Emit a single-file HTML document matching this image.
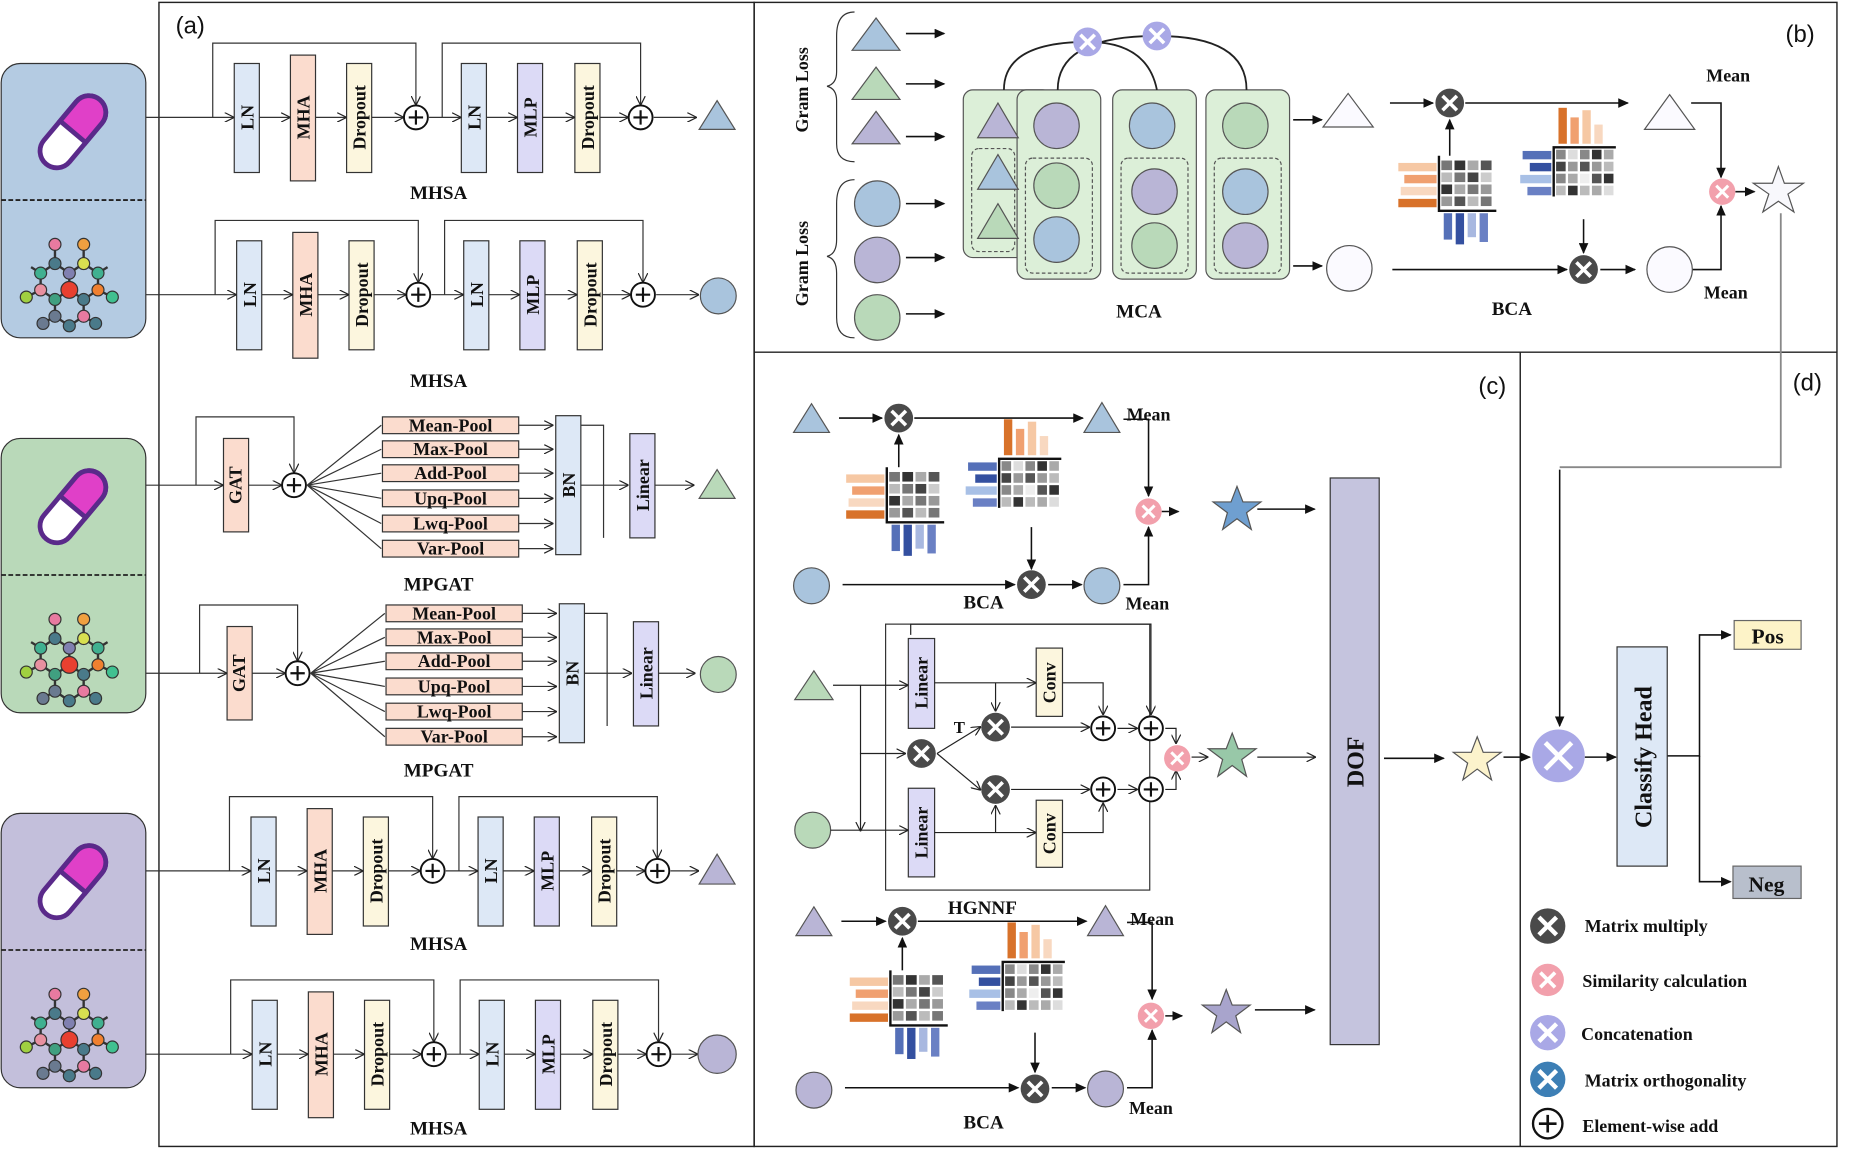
<!DOCTYPE html>
<html><head><meta charset="utf-8"><style>
html,body{margin:0;padding:0;background:#fff;}
svg{display:block;}
text{font-family:"Liberation Serif",serif;font-weight:bold;fill:#111;}
.s{font-family:"Liberation Sans",sans-serif;font-weight:normal;}
</style></head><body>
<svg width="1874" height="1168" viewBox="0 0 1568 975" preserveAspectRatio="none" xmlns="http://www.w3.org/2000/svg">
<defs>
<marker id="ar" markerWidth="8" markerHeight="8" refX="7" refY="4" orient="auto" markerUnits="userSpaceOnUse"><path d="M0,0 L8,4 L0,8" fill="none" stroke="#222" stroke-width="1"/></marker>
<marker id="af" markerWidth="9" markerHeight="8" refX="8" refY="4" orient="auto" markerUnits="userSpaceOnUse"><path d="M0,0 L9,4 L0,8z" fill="#111"/></marker>
<symbol id="mx" viewBox="-13 -13 26 26" overflow="visible"><circle r="12" fill="#4a4a4a"/><path d="M-6,-6L6,6M6,-6L-6,6" stroke="#fff" stroke-width="3"/></symbol>
<symbol id="pk" viewBox="-13 -13 26 26" overflow="visible"><circle r="11" fill="#f2a0ac"/><path d="M-5,-5L5,5M5,-5L-5,5" stroke="#fff" stroke-width="2.5"/></symbol>
<symbol id="pu" viewBox="-13 -13 26 26" overflow="visible"><circle r="12" fill="#a9a8e6"/><path d="M-6,-6L6,6M6,-6L-6,6" stroke="#fff" stroke-width="3"/></symbol>
<symbol id="bl" viewBox="-13 -13 26 26" overflow="visible"><circle r="12" fill="#3d7fb5"/><path d="M-6,-6L6,6M6,-6L-6,6" stroke="#fff" stroke-width="3"/></symbol>
<symbol id="pl" viewBox="-13 -13 26 26" overflow="visible"><circle r="10" fill="#fff" stroke="#111" stroke-width="1.6"/><path d="M-6,0H6M0,-6V6" stroke="#111" stroke-width="1.8"/></symbol>
<symbol id="hmA" viewBox="0 0 90 85" overflow="visible">
<rect x="0" y="6" width="32" height="7" fill="#f6c8a4"/><rect x="5" y="16" width="27" height="7" fill="#f0a070"/><rect x="2" y="26" width="30" height="7" fill="#f8d8c0"/><rect x="0" y="36" width="32" height="7" fill="#d8722a"/>
<g fill="#777"><rect x="36" y="4" width="9" height="8"/><rect x="47" y="4" width="9" height="8" fill="#333"/><rect x="58" y="4" width="9" height="8" fill="#aaa"/><rect x="69" y="4" width="9" height="8" fill="#555"/>
<rect x="36" y="14" width="9" height="8" fill="#bbb"/><rect x="47" y="14" width="9" height="8"/><rect x="58" y="14" width="9" height="8" fill="#444"/><rect x="69" y="14" width="9" height="8" fill="#ccc"/>
<rect x="36" y="24" width="9" height="8" fill="#333"/><rect x="47" y="24" width="9" height="8" fill="#aaa"/><rect x="58" y="24" width="9" height="8"/><rect x="69" y="24" width="9" height="8" fill="#999"/>
<rect x="36" y="34" width="9" height="8" fill="#999"/><rect x="47" y="34" width="9" height="8" fill="#555"/><rect x="58" y="34" width="9" height="8" fill="#bbb"/><rect x="69" y="34" width="9" height="8" fill="#777"/></g>
<path d="M34,0V46H82" fill="none" stroke="#111" stroke-width="2"/>
<rect x="38" y="48" width="7" height="22" fill="#5570b8"/><rect x="48" y="48" width="7" height="26" fill="#3450a0"/><rect x="58" y="48" width="7" height="20" fill="#a8b8e0"/><rect x="68" y="48" width="7" height="24" fill="#6a80c4"/>
</symbol>
<symbol id="hmB" viewBox="0 0 90 85" overflow="visible">
<rect x="32" y="0" width="7" height="30" fill="#d8722a"/><rect x="42" y="8" width="7" height="22" fill="#f0a070"/><rect x="52" y="2" width="7" height="28" fill="#f6c8a4"/><rect x="62" y="14" width="7" height="16" fill="#f8d8c0"/>
<rect x="2" y="36" width="24" height="7" fill="#5570b8"/><rect x="8" y="46" width="18" height="7" fill="#3450a0"/><rect x="0" y="56" width="26" height="7" fill="#a8c0e6"/><rect x="6" y="66" width="20" height="7" fill="#6a80c4"/>
<g><rect x="30" y="35" width="8" height="8" fill="#888"/><rect x="40" y="35" width="8" height="8" fill="#ddd"/><rect x="50" y="35" width="8" height="8" fill="#888"/><rect x="60" y="35" width="8" height="8" fill="#333"/><rect x="70" y="35" width="8" height="8" fill="#aaa"/>
<rect x="30" y="45" width="8" height="8" fill="#444"/><rect x="40" y="45" width="8" height="8" fill="#999"/><rect x="50" y="45" width="8" height="8" fill="#555"/><rect x="60" y="45" width="8" height="8" fill="#999"/><rect x="70" y="45" width="8" height="8" fill="#bbb"/>
<rect x="30" y="55" width="8" height="8" fill="#888"/><rect x="40" y="55" width="8" height="8" fill="#aaa"/><rect x="50" y="55" width="8" height="8" fill="#eee"/><rect x="60" y="55" width="8" height="8" fill="#555"/><rect x="70" y="55" width="8" height="8" fill="#333"/>
<rect x="30" y="65" width="8" height="8" fill="#bbb"/><rect x="40" y="65" width="8" height="8" fill="#333"/><rect x="50" y="65" width="8" height="8" fill="#bbb"/><rect x="60" y="65" width="8" height="8" fill="#aaa"/><rect x="70" y="65" width="8" height="8" fill="#ddd"/></g>
<path d="M28,74V33H80" fill="none" stroke="#111" stroke-width="2"/>
</symbol>
<symbol id="pill" viewBox="0 0 122 114" overflow="visible">
<g transform="rotate(-50 61 57)"><rect x="26" y="43" width="70" height="28" rx="14" fill="#fff" stroke="#5a2a8a" stroke-width="4"/><path d="M61,43H82A14,14 0 0 1 82,71H61z" fill="#e040c8" stroke="#5a2a8a" stroke-width="4"/></g>
</symbol>
<symbol id="mol" viewBox="0 0 122 114" overflow="visible">
<g stroke="#333" stroke-width="2" fill="none"><path d="M46,40L46,52L34,60L34,74L46,82L46,96L58,104L70,96L70,82L82,74L82,60L70,52L70,40M46,52L58,60L70,52M58,60L58,74L46,82M58,74L70,82M34,74L22,80M82,74L94,80M46,96L36,102M70,96L80,102M34,60L26,55M82,60L90,55"/></g>
<g stroke="#333" stroke-width="1"><circle cx="46" cy="36" r="5" fill="#e87aa0"/><circle cx="70" cy="36" r="5" fill="#f0a040"/><circle cx="46" cy="52" r="5" fill="#4a7a8a"/><circle cx="70" cy="52" r="5" fill="#d8e050"/><circle cx="34" cy="60" r="5" fill="#40b090"/><circle cx="82" cy="60" r="5" fill="#40b090"/><circle cx="58" cy="60" r="5" fill="#8080b0"/><circle cx="58" cy="74" r="7" fill="#e84030"/><circle cx="34" cy="74" r="5" fill="#e890a0"/><circle cx="82" cy="74" r="5" fill="#f08030"/><circle cx="22" cy="80" r="5" fill="#a0d040"/><circle cx="94" cy="80" r="5" fill="#40c090"/><circle cx="46" cy="82" r="5" fill="#40a080"/><circle cx="70" cy="82" r="5" fill="#4a7a8a"/><circle cx="46" cy="96" r="5" fill="#6a7a90"/><circle cx="70" cy="96" r="5" fill="#e87aa0"/><circle cx="36" cy="102" r="5" fill="#6a7a90"/><circle cx="58" cy="104" r="5" fill="#4a7a8a"/><circle cx="80" cy="102" r="5" fill="#4a7a8a"/></g>
</symbol>
</defs>

<!-- left icon panels -->
<g stroke="#333" stroke-width="1">
<rect x="1" y="53" width="121" height="229" rx="16" fill="#b4cbe2"/>
<rect x="1" y="366" width="121" height="229" rx="16" fill="#b9d9b9"/>
<rect x="1" y="679" width="121" height="229" rx="16" fill="#c3bfdb"/>
</g>
<g stroke="#222" stroke-width="1.5" stroke-dasharray="4,2"><path d="M1,167H122M1,480H122M1,793H122"/></g>
<use href="#pill" x="0" y="53" width="122" height="114"/><use href="#mol" x="0" y="168" width="122" height="114"/>
<use href="#pill" x="0" y="366" width="122" height="114"/><use href="#mol" x="0" y="481" width="122" height="114"/>
<use href="#pill" x="0" y="679" width="122" height="114"/><use href="#mol" x="0" y="794" width="122" height="114"/>

<!-- panel borders -->
<g fill="none" stroke="#222" stroke-width="1.2">
<rect x="133" y="2" width="498" height="955"/>
<rect x="631" y="2" width="906" height="955"/>
<path d="M631,294H1537M1272,294V957"/>
</g>
<text class="s" x="147" y="28" font-size="20">(a)</text>
<text class="s" x="1494" y="35" font-size="20">(b)</text>
<text class="s" x="1237" y="329" font-size="20">(c)</text>
<text class="s" x="1500" y="326" font-size="20">(d)</text>

<!-- MHSA rows -->
<g>
<g stroke="#333" stroke-width="1">
<rect x="196" y="53" width="21" height="91" fill="#dde8f6"/><rect x="243" y="46" width="21" height="105" fill="#fbdcce"/><rect x="290" y="53" width="21" height="91" fill="#fcf6de"/>
<rect x="386" y="53" width="21" height="91" fill="#dde8f6"/><rect x="433" y="53" width="21" height="91" fill="#dcdaf6"/><rect x="481" y="53" width="21" height="91" fill="#fcf6de"/></g>
<g stroke="#333" stroke-width="1" fill="none" marker-end="url(#ar)">
<path d="M122,98H195"/><path d="M217,98H242"/><path d="M264,98H289"/><path d="M311,98H337"/><path d="M178,98V36H348V87"/><path d="M359,98H385"/><path d="M370,98V36H536V87"/><path d="M407,98H432"/><path d="M454,98H480"/><path d="M502,98H525"/><path d="M547,98H582"/></g>
<use href="#pl" x="335" y="85" width="26" height="26"/><use href="#pl" x="523" y="85" width="26" height="26"/>
<g font-size="15"><text transform="translate(212,98) rotate(-90)" text-anchor="middle">LN</text><text transform="translate(259,98) rotate(-90)" text-anchor="middle">MHA</text><text transform="translate(306,98) rotate(-90)" text-anchor="middle">Dropout</text><text transform="translate(402,98) rotate(-90)" text-anchor="middle">LN</text><text transform="translate(449,98) rotate(-90)" text-anchor="middle">MLP</text><text transform="translate(497,98) rotate(-90)" text-anchor="middle">Dropout</text></g>
<text x="367" y="166" font-size="16" text-anchor="middle">MHSA</text>
</g>
<path d="M600,84L615,108H585z" fill="#a9c4dd" stroke="#555"/>

<g transform="translate(2,148)">
<g stroke="#333" stroke-width="1">
<rect x="196" y="53" width="21" height="91" fill="#dde8f6"/><rect x="243" y="46" width="21" height="105" fill="#fbdcce"/><rect x="290" y="53" width="21" height="91" fill="#fcf6de"/>
<rect x="386" y="53" width="21" height="91" fill="#dde8f6"/><rect x="433" y="53" width="21" height="91" fill="#dcdaf6"/><rect x="481" y="53" width="21" height="91" fill="#fcf6de"/></g>
<g stroke="#333" stroke-width="1" fill="none" marker-end="url(#ar)">
<path d="M120,98H195"/><path d="M217,98H242"/><path d="M264,98H289"/><path d="M311,98H337"/><path d="M178,98V36H348V87"/><path d="M359,98H385"/><path d="M370,98V36H536V87"/><path d="M407,98H432"/><path d="M454,98H480"/><path d="M502,98H525"/><path d="M547,98H582"/></g>
<use href="#pl" x="335" y="85" width="26" height="26"/><use href="#pl" x="523" y="85" width="26" height="26"/>
<g font-size="15"><text transform="translate(212,98) rotate(-90)" text-anchor="middle">LN</text><text transform="translate(259,98) rotate(-90)" text-anchor="middle">MHA</text><text transform="translate(306,98) rotate(-90)" text-anchor="middle">Dropout</text><text transform="translate(402,98) rotate(-90)" text-anchor="middle">LN</text><text transform="translate(449,98) rotate(-90)" text-anchor="middle">MLP</text><text transform="translate(497,98) rotate(-90)" text-anchor="middle">Dropout</text></g>
<text x="365" y="175" font-size="16" text-anchor="middle">MHSA</text>
</g>
<circle cx="601" cy="247" r="15" fill="#a9c4dd" stroke="#555"/>

<g transform="translate(14,629)">
<g stroke="#333" stroke-width="1">
<rect x="196" y="53" width="21" height="91" fill="#dde8f6"/><rect x="243" y="46" width="21" height="105" fill="#fbdcce"/><rect x="290" y="53" width="21" height="91" fill="#fcf6de"/>
<rect x="386" y="53" width="21" height="91" fill="#dde8f6"/><rect x="433" y="53" width="21" height="91" fill="#dcdaf6"/><rect x="481" y="53" width="21" height="91" fill="#fcf6de"/></g>
<g stroke="#333" stroke-width="1" fill="none" marker-end="url(#ar)">
<path d="M108,98H195"/><path d="M217,98H242"/><path d="M264,98H289"/><path d="M311,98H337"/><path d="M178,98V36H348V87"/><path d="M359,98H385"/><path d="M370,98V36H536V87"/><path d="M407,98H432"/><path d="M454,98H480"/><path d="M502,98H525"/><path d="M547,98H570"/></g>
<use href="#pl" x="335" y="85" width="26" height="26"/><use href="#pl" x="523" y="85" width="26" height="26"/>
<g font-size="15"><text transform="translate(212,98) rotate(-90)" text-anchor="middle">LN</text><text transform="translate(259,98) rotate(-90)" text-anchor="middle">MHA</text><text transform="translate(306,98) rotate(-90)" text-anchor="middle">Dropout</text><text transform="translate(402,98) rotate(-90)" text-anchor="middle">LN</text><text transform="translate(449,98) rotate(-90)" text-anchor="middle">MLP</text><text transform="translate(497,98) rotate(-90)" text-anchor="middle">Dropout</text></g>
<text x="353" y="164" font-size="16" text-anchor="middle">MHSA</text>
</g>
<path d="M600,713L615,738H585z" fill="#b9b5d6" stroke="#555"/>

<g transform="translate(15,782)">
<g stroke="#333" stroke-width="1">
<rect x="196" y="53" width="21" height="91" fill="#dde8f6"/><rect x="243" y="46" width="21" height="105" fill="#fbdcce"/><rect x="290" y="53" width="21" height="91" fill="#fcf6de"/>
<rect x="386" y="53" width="21" height="91" fill="#dde8f6"/><rect x="433" y="53" width="21" height="91" fill="#dcdaf6"/><rect x="481" y="53" width="21" height="91" fill="#fcf6de"/></g>
<g stroke="#333" stroke-width="1" fill="none" marker-end="url(#ar)">
<path d="M107,98H195"/><path d="M217,98H242"/><path d="M264,98H289"/><path d="M311,98H337"/><path d="M178,98V36H348V87"/><path d="M359,98H385"/><path d="M370,98V36H536V87"/><path d="M407,98H432"/><path d="M454,98H480"/><path d="M502,98H525"/><path d="M547,98H568"/></g>
<use href="#pl" x="335" y="85" width="26" height="26"/><use href="#pl" x="523" y="85" width="26" height="26"/>
<g font-size="15"><text transform="translate(212,98) rotate(-90)" text-anchor="middle">LN</text><text transform="translate(259,98) rotate(-90)" text-anchor="middle">MHA</text><text transform="translate(306,98) rotate(-90)" text-anchor="middle">Dropout</text><text transform="translate(402,98) rotate(-90)" text-anchor="middle">LN</text><text transform="translate(449,98) rotate(-90)" text-anchor="middle">MLP</text><text transform="translate(497,98) rotate(-90)" text-anchor="middle">Dropout</text></g>
<text x="352" y="165" font-size="16" text-anchor="middle">MHSA</text>
</g>
<circle cx="600" cy="880" r="16" fill="#b9b5d6" stroke="#555"/>

<!-- MPGAT 1 -->
<g>
<rect x="187" y="366" width="21" height="78" fill="#fbdcce" stroke="#333"/>
<g fill="#fbdcce" stroke="#333"><rect x="320" y="348" width="114" height="14"/><rect x="320" y="368" width="114" height="14"/><rect x="320" y="388" width="114" height="14"/><rect x="320" y="409" width="114" height="14"/><rect x="320" y="430" width="114" height="14"/><rect x="320" y="451" width="114" height="14"/></g>
<rect x="465" y="347" width="21" height="116" fill="#dde8f6" stroke="#333"/>
<rect x="527" y="362" width="21" height="87" fill="#dcdaf6" stroke="#333"/>
<g stroke="#333" fill="none" marker-end="url(#ar)"><path d="M122,405H186"/><path d="M164,405V348H246V394"/><path d="M208,405H235"/><path d="M434,355H462"/><path d="M434,375H462"/><path d="M434,395H462"/><path d="M434,416H462"/><path d="M434,437H462"/><path d="M434,458H462"/><path d="M486,405H525"/><path d="M548,405H580"/></g>
<g stroke="#333" fill="none"><path d="M257,405L319,355M257,405L319,375M257,405L319,395M257,405L319,416M257,405L319,437M257,405L319,458M486,355H505V449"/></g>
<use href="#pl" x="233" y="392" width="26" height="26"/>
<g font-size="15" text-anchor="middle"><text x="377" y="360">Mean-Pool</text><text x="377" y="380">Max-Pool</text><text x="377" y="400">Add-Pool</text><text x="377" y="421">Upq-Pool</text><text x="377" y="442">Lwq-Pool</text><text x="377" y="463">Var-Pool</text>
<text transform="translate(202,405) rotate(-90)">GAT</text><text transform="translate(481,405) rotate(-90)">BN</text><text transform="translate(543,405) rotate(-90)">Linear</text></g>
<text x="367" y="493" font-size="16" text-anchor="middle">MPGAT</text>
<path d="M600,392L615,416H585z" fill="#b9d9b9" stroke="#555"/>
</g>
<!-- MPGAT 2 -->
<g transform="translate(3,157)">
<rect x="187" y="366" width="21" height="78" fill="#fbdcce" stroke="#333"/>
<g fill="#fbdcce" stroke="#333"><rect x="320" y="348" width="114" height="14"/><rect x="320" y="368" width="114" height="14"/><rect x="320" y="388" width="114" height="14"/><rect x="320" y="409" width="114" height="14"/><rect x="320" y="430" width="114" height="14"/><rect x="320" y="451" width="114" height="14"/></g>
<rect x="465" y="347" width="21" height="116" fill="#dde8f6" stroke="#333"/>
<rect x="527" y="362" width="21" height="87" fill="#dcdaf6" stroke="#333"/>
<g stroke="#333" fill="none" marker-end="url(#ar)"><path d="M119,405H186"/><path d="M164,405V348H246V394"/><path d="M208,405H235"/><path d="M434,355H462"/><path d="M434,375H462"/><path d="M434,395H462"/><path d="M434,416H462"/><path d="M434,437H462"/><path d="M434,458H462"/><path d="M486,405H525"/><path d="M548,405H578"/></g>
<g stroke="#333" fill="none"><path d="M257,405L319,355M257,405L319,375M257,405L319,395M257,405L319,416M257,405L319,437M257,405L319,458M486,355H505V449"/></g>
<use href="#pl" x="233" y="392" width="26" height="26"/>
<g font-size="15" text-anchor="middle"><text x="377" y="360">Mean-Pool</text><text x="377" y="380">Max-Pool</text><text x="377" y="400">Add-Pool</text><text x="377" y="421">Upq-Pool</text><text x="377" y="442">Lwq-Pool</text><text x="377" y="463">Var-Pool</text>
<text transform="translate(202,405) rotate(-90)">GAT</text><text transform="translate(481,405) rotate(-90)">BN</text><text transform="translate(543,405) rotate(-90)">Linear</text></g>
<text x="364" y="491" font-size="16" text-anchor="middle">MPGAT</text>
</g>
<circle cx="601" cy="563" r="15" fill="#b9d9b9" stroke="#555"/>

<!-- Panel b -->
<g font-size="15"><text transform="translate(676,75) rotate(-90)" text-anchor="middle">Gram Loss</text><text transform="translate(676,220) rotate(-90)" text-anchor="middle">Gram Loss</text></g>
<g fill="none" stroke="#333"><path d="M715,10Q700,10 700,30V60Q700,70 692,72Q700,74 700,84V120Q700,135 715,135"/><path d="M715,150Q700,150 700,170V200Q700,212 692,214Q700,216 700,228V265Q700,282 715,282"/></g>
<path d="M733,15L753,42H713z" fill="#a9c4dd" stroke="#555"/>
<path d="M733,56L753,83H713z" fill="#b9d9b9" stroke="#555"/>
<path d="M733,93L753,120H713z" fill="#b9b5d6" stroke="#555"/>
<circle cx="734" cy="170" r="19" fill="#a9c4dd" stroke="#555"/>
<circle cx="734" cy="217" r="19" fill="#b9b5d6" stroke="#555"/>
<circle cx="734" cy="265" r="19" fill="#b9d9b9" stroke="#555"/>
<g stroke="#111" stroke-width="1.3" marker-end="url(#af)"><path d="M758,28H790"/><path d="M758,70H790"/><path d="M758,114H790"/><path d="M758,170H790"/><path d="M758,215H790"/><path d="M758,262H790"/></g>
<g stroke="#555" fill="#dcefd8">
<rect x="806" y="75" width="74" height="140" rx="8"/>
<rect x="851" y="75" width="70" height="158" rx="8"/>
<rect x="931" y="75" width="70" height="158" rx="8"/>
<rect x="1009" y="75" width="70" height="158" rx="8"/>
</g>
<g fill="none" stroke="#555" stroke-dasharray="3,2"><rect x="813" y="124" width="36" height="86" rx="6"/><rect x="858" y="132" width="56" height="96" rx="6"/><rect x="938" y="132" width="56" height="96" rx="6"/><rect x="1016" y="132" width="56" height="96" rx="6"/></g>
<path d="M835,86L852,115H818z" fill="#b9b5d6" stroke="#555"/><path d="M835,129L852,158H818z" fill="#a9c4dd" stroke="#555"/><path d="M835,170L852,199H818z" fill="#b9d9b9" stroke="#555"/>
<circle cx="884" cy="105" r="19" fill="#b9b5d6" stroke="#555"/><circle cx="884" cy="155" r="19" fill="#b9d9b9" stroke="#555"/><circle cx="884" cy="200" r="19" fill="#a9c4dd" stroke="#555"/>
<circle cx="964" cy="105" r="19" fill="#a9c4dd" stroke="#555"/><circle cx="966" cy="160" r="19" fill="#b9b5d6" stroke="#555"/><circle cx="966" cy="205" r="19" fill="#b9d9b9" stroke="#555"/>
<circle cx="1042" cy="105" r="19" fill="#b9d9b9" stroke="#555"/><circle cx="1042" cy="160" r="19" fill="#a9c4dd" stroke="#555"/><circle cx="1042" cy="205" r="19" fill="#b9b5d6" stroke="#555"/>
<g fill="none" stroke="#222" stroke-width="1.5"><path d="M840,75Q840,35 910,35Q960,35 968,75"/><path d="M885,75Q885,30 968,30Q1043,30 1043,75"/></g>
<use href="#pu" x="897" y="22" width="26" height="26"/><use href="#pu" x="955" y="17" width="26" height="26"/>
<g stroke="#111" stroke-width="1.3" marker-end="url(#af)"><path d="M1082,100H1106"/><path d="M1082,222H1106"/></g>
<path d="M1128,78L1149,106H1107z" fill="#fbfaff" stroke="#555"/>
<circle cx="1129" cy="224" r="19" fill="#fbfaff" stroke="#555"/>
<text x="953" y="265" font-size="16" text-anchor="middle">MCA</text>
<use href="#hmA" x="1170" y="130" width="90" height="85"/>
<use href="#hmB" x="1272" y="90" width="90" height="85"/>
<g stroke="#111" stroke-width="1.3" fill="none" marker-end="url(#af)"><path d="M1163,86H1199"/><path d="M1226,86H1362"/><path d="M1213,130V100"/><path d="M1165,225H1311"/><path d="M1325,183V211"/><path d="M1339,225H1368"/><path d="M1415,86H1440V148"/><path d="M1415,225H1440V172"/><path d="M1452,160H1468"/></g>
<use href="#mx" x="1200" y="73" width="26" height="26"/><use href="#mx" x="1312" y="212" width="26" height="26"/>
<path d="M1397,79L1418,108H1376z" fill="#fbfaff" stroke="#555"/>
<circle cx="1397" cy="225" r="19" fill="#fbfaff" stroke="#555"/>
<use href="#pk" x="1428" y="147" width="26" height="26"/>
<path d="M1488,139L1493,153L1509,153L1496,162L1501,177L1488,168L1475,177L1480,162L1467,153L1483,153z" fill="#f8f8fc" stroke="#555"/>
<text x="1446" y="68" font-size="15" text-anchor="middle">Mean</text>
<text x="1444" y="249" font-size="15" text-anchor="middle">Mean</text>
<text x="1265" y="263" font-size="16" text-anchor="middle">BCA</text>

<!-- Panel c top BCA -->
<path d="M679,337L694,361H664z" fill="#a9c4dd" stroke="#555"/>
<circle cx="679" cy="489" r="15" fill="#a9c4dd" stroke="#555"/>
<use href="#hmA" x="708" y="390" width="90" height="85"/>
<use href="#hmB" x="808" y="350" width="90" height="85"/>
<g stroke="#111" stroke-width="1.3" fill="none" marker-end="url(#af)"><path d="M702,349H738"/><path d="M765,349H906"/><path d="M752,390V363"/><path d="M705,488H849"/><path d="M863,440V475"/><path d="M877,488H905"/><path d="M940,350H961V414"/><path d="M940,488H961V440"/><path d="M972,427H986"/><path d="M1052,425H1100"/></g>
<use href="#mx" x="739" y="336" width="26" height="26"/><use href="#mx" x="850" y="475" width="26" height="26"/>
<path d="M922,336L937,361H907z" fill="#a9c4dd" stroke="#555"/>
<circle cx="922" cy="489" r="15" fill="#a9c4dd" stroke="#555"/>
<use href="#pk" x="948" y="414" width="26" height="26"/>
<path d="M1035,406L1040,419L1055,419L1043,428L1047,442L1035,433L1023,442L1027,428L1015,419L1030,419z" fill="#6f9fd0" stroke="#555"/>
<text x="961" y="351" font-size="15" text-anchor="middle">Mean</text>
<text x="960" y="509" font-size="15" text-anchor="middle">Mean</text>
<text x="823" y="508" font-size="16" text-anchor="middle">BCA</text>
<!-- bottom BCA -->
<path d="M681,757L696,781H666z" fill="#b9b5d6" stroke="#555"/>
<circle cx="681" cy="910" r="15" fill="#b9b5d6" stroke="#555"/>
<use href="#hmA" x="711" y="810" width="90" height="85"/>
<use href="#hmB" x="811" y="770" width="90" height="85"/>
<g stroke="#111" stroke-width="1.3" fill="none" marker-end="url(#af)"><path d="M704,769H741"/><path d="M768,769H909"/><path d="M755,810V783"/><path d="M707,908H852"/><path d="M866,862V895"/><path d="M880,908H908"/><path d="M943,770H964V834"/><path d="M943,908H964V860"/><path d="M975,848H989"/><path d="M1050,843H1100"/></g>
<use href="#mx" x="742" y="756" width="26" height="26"/><use href="#mx" x="853" y="896" width="26" height="26"/>
<path d="M925,756L940,781H910z" fill="#b9b5d6" stroke="#555"/>
<circle cx="925" cy="909" r="15" fill="#b9b5d6" stroke="#555"/>
<use href="#pk" x="950" y="835" width="26" height="26"/>
<path d="M1026,826L1031,839L1046,839L1034,848L1038,862L1026,853L1014,862L1018,848L1006,839L1021,839z" fill="#a8a4cc" stroke="#555"/>
<text x="964" y="772" font-size="15" text-anchor="middle">Mean</text>
<text x="963" y="930" font-size="15" text-anchor="middle">Mean</text>
<text x="823" y="942" font-size="16" text-anchor="middle">BCA</text>

<!-- HGNNF -->
<rect x="741" y="521" width="221" height="222" fill="none" stroke="#333"/>
<path d="M681,560L697,584H665z" fill="#b9d9b9" stroke="#555"/>
<circle cx="680" cy="693" r="15" fill="#b9d9b9" stroke="#555"/>
<rect x="760" y="533" width="22" height="75" fill="#dcdaf6" stroke="#333"/>
<rect x="760" y="658" width="22" height="74" fill="#dcdaf6" stroke="#333"/>
<rect x="867" y="541" width="22" height="57" fill="#fcf6de" stroke="#333"/>
<rect x="867" y="668" width="22" height="56" fill="#fcf6de" stroke="#333"/>
<g font-size="15" text-anchor="middle"><text transform="translate(776,570) rotate(-90)">Linear</text><text transform="translate(776,695) rotate(-90)">Linear</text><text transform="translate(883,570) rotate(-90)">Conv</text><text transform="translate(883,696) rotate(-90)">Conv</text></g>
<g stroke="#222" stroke-width="1" fill="none" marker-end="url(#ar)">
<path d="M697,572H759"/><path d="M695,693H759"/><path d="M720,572V629H757"/><path d="M720,629V693"/>
<path d="M782,570H866"/><path d="M782,695H866"/><path d="M833,570V593"/><path d="M833,695V673"/>
<path d="M784,629L820,607"/><path d="M784,629L820,659"/>
<path d="M846,607H911"/><path d="M846,659H911"/><path d="M889,570H923V596"/><path d="M889,695H923V671"/>
<path d="M935,608H951"/><path d="M935,659H951"/><path d="M762,530V521H963V596"/><path d="M975,608H984V620"/><path d="M975,659H984V644"/>
<path d="M997,632H1010"/><path d="M1052,632H1100"/>
</g>
<use href="#mx" x="758" y="616" width="26" height="26"/><use href="#mx" x="820" y="594" width="26" height="26"/><use href="#mx" x="820" y="646" width="26" height="26"/>
<use href="#pl" x="910" y="595" width="26" height="26"/><use href="#pl" x="950" y="595" width="26" height="26"/><use href="#pl" x="910" y="646" width="26" height="26"/><use href="#pl" x="950" y="646" width="26" height="26"/>
<use href="#pk" x="972" y="620" width="26" height="26"/>
<text x="798" y="612" font-size="14">T</text>
<path d="M1031,612L1036,625L1051,625L1039,634L1043,648L1031,639L1019,648L1023,634L1011,625L1026,625z" fill="#98c8a8" stroke="#555"/>
<text x="822" y="763" font-size="16" text-anchor="middle">HGNNF</text>

<!-- DOF -->
<rect x="1113" y="399" width="41" height="473" fill="#c5c4de" stroke="#333"/>
<text transform="translate(1141,636) rotate(-90)" font-size="20" text-anchor="middle">DOF</text>
<g stroke="#111" stroke-width="1.3" fill="none" marker-end="url(#af)"><path d="M1158,633H1208"/><path d="M1258,632H1280"/><path d="M1326,632H1352"/><path d="M1395,631H1422V530H1448"/><path d="M1422,631V736H1448"/><path d="M1305,392V606"/></g>
<path d="M1490,178V390H1305" fill="none" stroke="#888" stroke-width="1.5"/>
<path d="M1236,615L1241,628L1256,628L1244,637L1248,651L1236,642L1224,651L1228,637L1216,628L1231,628z" fill="#fcf3cc" stroke="#555"/>
<circle cx="1304" cy="631" r="22" fill="#a9a8e6"/><path d="M1293,620L1315,642M1315,620L1293,642" stroke="#fff" stroke-width="4"/>
<rect x="1353" y="540" width="42" height="183" fill="#dde8f6" stroke="#333"/>
<text transform="translate(1382,632) rotate(-90)" font-size="20" text-anchor="middle">Classify Head</text>
<rect x="1451" y="518" width="56" height="24" fill="#fdf3c8" stroke="#666"/>
<text x="1479" y="537" font-size="18" text-anchor="middle">Pos</text>
<rect x="1450" y="723" width="57" height="27" fill="#b8bfcc" stroke="#666"/>
<text x="1478" y="744" font-size="18" text-anchor="middle">Neg</text>
<use href="#mx" x="1279" y="757" width="32" height="32"/>
<use href="#pk" x="1279" y="802" width="32" height="32"/>
<use href="#pu" x="1279" y="846" width="32" height="32"/>
<use href="#bl" x="1279" y="885" width="32" height="32"/>
<use href="#pl" x="1279" y="922" width="32" height="32"/>
<g font-size="15"><text x="1326" y="778">Matrix  multiply</text><text x="1324" y="824">Similarity  calculation</text><text x="1323" y="868">Concatenation</text><text x="1326" y="907">Matrix  orthogonality</text><text x="1324" y="945">Element-wise  add</text></g>
</svg>
</body></html>
